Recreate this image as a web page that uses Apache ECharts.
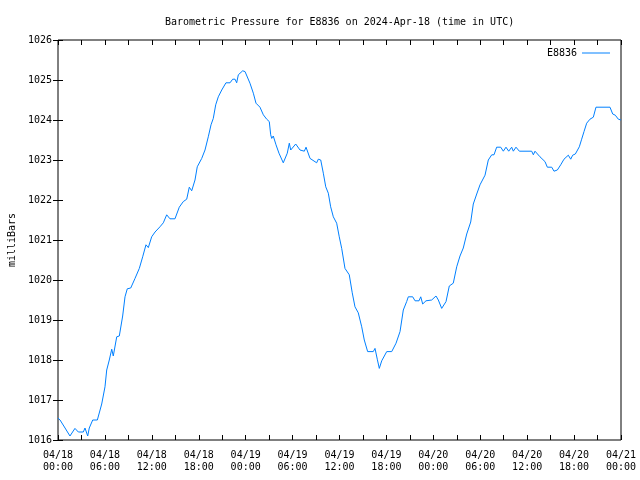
<!DOCTYPE html>
<html><head><meta charset="utf-8">
<script src="https://cdn.jsdelivr.net/npm/echarts@6/dist/echarts.min.js"></script>
<style>html,body{margin:0;padding:0;background:#fff}#c{width:640px;height:480px}</style>
</head><body><div id="c"></div>
<script>
var title = 'Barometric Pressure for E8836 on 2024-Apr-18 (time in UTC)';
var seriesName = 'E8836';
var yName = 'milliBars';
// hours since 2024-04-18 00:00 UTC
var hours = [0,0.26,0.9,1.53,2.17,2.6,3.24,3.45,3.8,4.0,4.44,5.03,5.59,6.01,6.23,6.56,6.87,7.07,7.51,7.84,8.27,8.57,8.86,9.3,9.85,10.4,10.83,11.25,11.55,11.98,12.41,13.04,13.47,13.9,14.32,14.96,15.51,16.02,16.46,16.79,17.1,17.52,17.81,18.38,18.8,19.22,19.57,19.86,20.17,20.5,20.94,21.48,22.0,22.34,22.64,22.85,23.06,23.28,23.62,23.92,24.55,24.98,25.32,25.83,26.26,26.69,27.02,27.2,27.33,27.53,27.88,28.26,28.81,29.32,29.58,29.76,30.4,30.95,31.5,31.72,32.23,33.08,33.29,33.6,33.93,34.24,34.57,34.87,35.21,35.64,35.97,36.28,36.7,37.25,37.63,37.98,38.4,38.84,39.17,39.6,40.32,40.54,40.83,41.09,41.4,42.04,42.68,43.23,43.74,44.16,44.59,44.8,45.36,45.66,46.17,46.39,46.64,47.06,47.79,48.34,48.64,49.07,49.62,50.04,50.55,50.99,51.41,51.83,52.27,52.78,53.11,53.55,53.97,54.61,55.03,55.47,55.76,56.1,56.62,56.95,57.29,57.64,58.02,58.23,58.57,59.0,60.58,60.79,61.0,61.64,62.28,62.58,63.14,63.43,63.86,64.29,64.71,65.26,65.57,65.82,66.16,66.67,66.97,67.27,67.61,68.03,68.46,68.8,70.59,70.94,71.27,71.66,72.0];
var pressure = [1016.55,1016.5,1016.3,1016.1,1016.29,1016.2,1016.2,1016.3,1016.1,1016.3,1016.5,1016.5,1016.9,1017.33,1017.75,1018.0,1018.27,1018.1,1018.58,1018.6,1019.1,1019.58,1019.78,1019.8,1020.04,1020.29,1020.58,1020.88,1020.81,1021.08,1021.2,1021.33,1021.43,1021.63,1021.53,1021.53,1021.82,1021.96,1022.02,1022.32,1022.23,1022.5,1022.83,1023.04,1023.25,1023.58,1023.88,1024.04,1024.38,1024.58,1024.75,1024.93,1024.93,1025.02,1025.02,1024.93,1025.13,1025.13,1025.23,1025.21,1024.92,1024.67,1024.42,1024.32,1024.13,1024.02,1023.96,1023.63,1023.54,1023.6,1023.38,1023.17,1022.93,1023.17,1023.42,1023.25,1023.4,1023.25,1023.22,1023.32,1023.04,1022.93,1023.02,1023.0,1022.67,1022.33,1022.17,1021.83,1021.58,1021.42,1021.08,1020.79,1020.29,1020.13,1019.68,1019.33,1019.18,1018.83,1018.5,1018.21,1018.21,1018.29,1018.02,1017.79,1017.98,1018.21,1018.21,1018.42,1018.71,1019.25,1019.46,1019.58,1019.58,1019.48,1019.48,1019.58,1019.4,1019.48,1019.5,1019.6,1019.5,1019.29,1019.46,1019.85,1019.92,1020.33,1020.6,1020.8,1021.15,1021.45,1021.9,1022.15,1022.38,1022.62,1023.0,1023.13,1023.13,1023.32,1023.32,1023.22,1023.32,1023.22,1023.32,1023.22,1023.32,1023.22,1023.22,1023.13,1023.22,1023.08,1022.96,1022.82,1022.82,1022.72,1022.75,1022.88,1023.02,1023.12,1023.02,1023.12,1023.15,1023.33,1023.52,1023.71,1023.92,1024.02,1024.07,1024.32,1024.32,1024.15,1024.12,1024.02,1024.0];

var FONT = 'DejaVu Sans Mono';
var FS = 10;
function pad(n){return (n<10?'0':'')+n;}
function xLabel(v){
  if (Math.round(v) % 6 !== 0) return '';
  var d = 18 + Math.floor(v/24), h = v % 24;
  return '04/' + pad(d) + '\n' + pad(h) + ':00';
}
var data = hours.map(function(h,i){return [h, pressure[i]];});
var chart = echarts.init(document.getElementById('c'));
chart.setOption({
  animation:false,
  backgroundColor:'#fff',
  textStyle:{fontFamily:FONT},
  title:{text:title,left:160,top:12,textStyle:{fontFamily:FONT,fontSize:FS,fontWeight:'normal',color:'#000'}},
  legend:{data:[{name:seriesName,icon:'rect'}],right:25,top:43,align:'right',itemWidth:28,itemHeight:1,itemGap:8,
    textStyle:{fontFamily:FONT,fontSize:FS,color:'#000'}},
  grid:{left:58,right:19,top:40,bottom:40,show:true,borderColor:'#000',borderWidth:1,containLabel:false,outerBoundsMode:'none'},
  xAxis:[{type:'value',min:0,max:72,interval:3,position:'bottom',
    axisLine:{show:false},splitLine:{show:false},
    axisTick:{show:true,inside:true,length:5,lineStyle:{color:'#000'}},
    axisLabel:{formatter:xLabel,fontFamily:FONT,fontSize:FS,color:'#000',lineHeight:12,margin:9,showMinLabel:true,showMaxLabel:true}},
    {type:'value',min:0,max:72,interval:3,position:'top',
    axisLine:{show:false},splitLine:{show:false},
    axisTick:{show:true,inside:true,length:5,lineStyle:{color:'#000'}},axisLabel:{show:false}}],
  yAxis:[{type:'value',min:1016,max:1026,interval:1,name:yName,nameLocation:'middle',nameGap:41,
    nameTextStyle:{fontFamily:FONT,fontSize:FS,color:'#000'},
    axisLine:{show:false},splitLine:{show:false},
    axisTick:{show:true,inside:true,length:5,lineStyle:{color:'#000'}},
    axisLabel:{formatter:function(v){return String(v);},fontFamily:FONT,fontSize:FS,color:'#000',margin:6}},
    {type:'value',min:1016,max:1026,interval:1,position:'right',
    axisLine:{show:false},splitLine:{show:false},
    axisTick:{show:true,inside:true,length:5,lineStyle:{color:'#000'}},axisLabel:{show:false}}],
  series:[{name:seriesName,type:'line',data:data,showSymbol:false,symbol:'none',
    lineStyle:{color:'#0080ff',width:1},itemStyle:{color:'#0080ff'}}]
});
</script></body></html>
